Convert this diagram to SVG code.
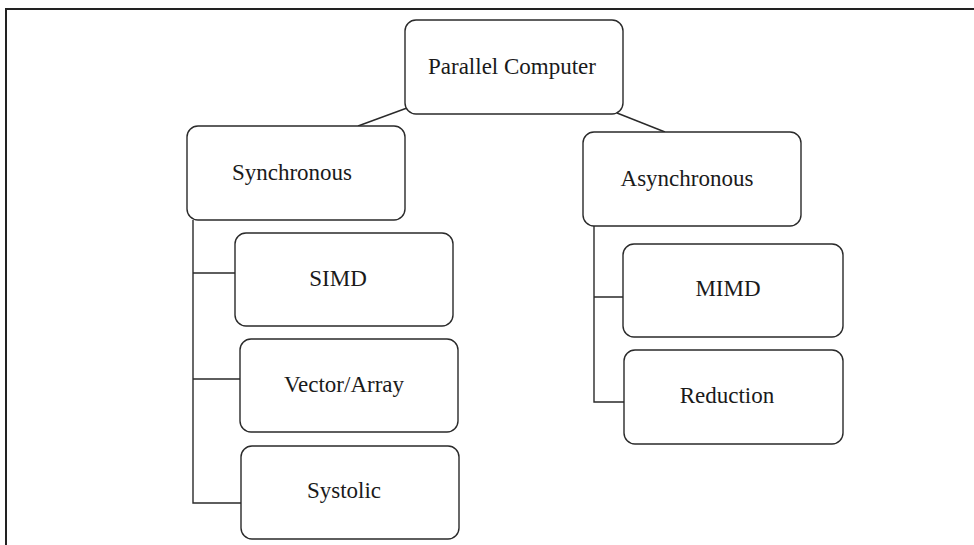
<svg xmlns="http://www.w3.org/2000/svg" width="974" height="545" viewBox="0 0 974 545">
<style>
.box{fill:#fff;stroke:#2a2a2a;stroke-width:1.4}
.lbl{font-family:"Liberation Serif","Times New Roman",serif;font-size:23px;fill:#1a1a1a;text-anchor:middle}
.con{fill:none;stroke:#2a2a2a;stroke-width:1.4}
.frame{fill:none;stroke:#222;stroke-width:2}
</style>
<rect width="974" height="545" fill="#fff"/>
<path class="frame" d="M6,545 V9 H974"/>
<g id="connectors">
<line class="con" x1="407" y1="108" x2="358" y2="126"/>
<line class="con" x1="617" y1="113" x2="665" y2="132"/>
<path class="con" d="M193,220 V503 H241 M193,273 H235 M193,379 H240"/>
<path class="con" d="M594,226 V402 H624 M594,297 H623"/>
</g>
<g id="parallel-computer">
<rect class="box" x="405" y="20" width="218" height="94" rx="11"/>
<text class="lbl" x="512" y="74">Parallel Computer</text>
</g>
<g id="synchronous">
<rect class="box" x="187" y="126" width="218" height="94" rx="11"/>
<text class="lbl" x="292" y="180">Synchronous</text>
</g>
<g id="simd">
<rect class="box" x="235" y="233" width="218" height="93" rx="11"/>
<text class="lbl" x="338" y="286">SIMD</text>
</g>
<g id="vector-array">
<rect class="box" x="240" y="339" width="218" height="93" rx="11"/>
<text class="lbl" x="344" y="392">Vector/Array</text>
</g>
<g id="systolic">
<rect class="box" x="241" y="446" width="218" height="93" rx="11"/>
<text class="lbl" x="344" y="498">Systolic</text>
</g>
<g id="asynchronous">
<rect class="box" x="583" y="132" width="218" height="94" rx="11"/>
<text class="lbl" x="687" y="186">Asynchronous</text>
</g>
<g id="mimd">
<rect class="box" x="623" y="244" width="220" height="93" rx="11"/>
<text class="lbl" x="728" y="296">MIMD</text>
</g>
<g id="reduction">
<rect class="box" x="624" y="350" width="219" height="94" rx="11"/>
<text class="lbl" x="727" y="403">Reduction</text>
</g>
</svg>
